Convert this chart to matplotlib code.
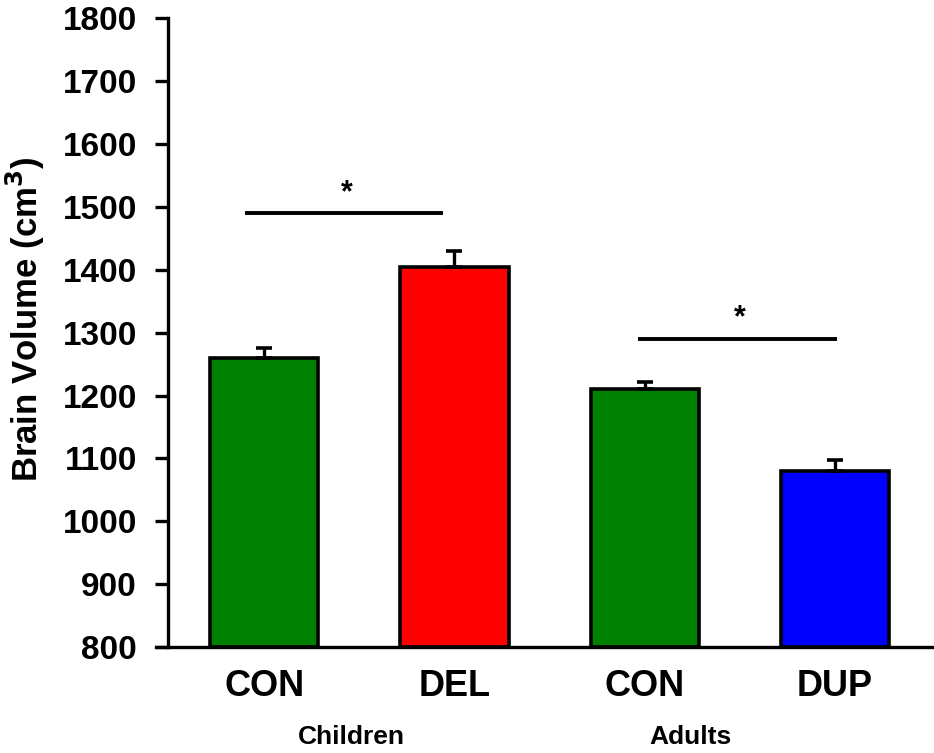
import numpy as np
import matplotlib
matplotlib.use("Agg")
import matplotlib.pyplot as plt
import matplotlib.transforms as mtransforms

# ── Data ───────────────────────────────────────────────────────
labels  = ["CON", "DEL", "CON", "DUP"]
volumes = [1260, 1405, 1210, 1080]
errors  = [16, 25, 11, 17]
colors  = ["#008000", "#FF0000", "#008000", "#0000FF"]

groups  = ["Children", "Adults"]
group_x = [0.46, 2.24]

# significance brackets: (x start, x end, y level)
sig_x0 = [-0.10, 1.965]
sig_x1 = [0.94, 3.01]
sig_y  = [1490, 1290]
star_x = [0.436, 2.50]
star_y = [1522, 1323]

yticks = np.arange(800, 1801, 100)

# ── Plot ───────────────────────────────────────────────────────
plt.rcParams["font.family"] = ["Liberation Sans", "DejaVu Sans"]

fig = plt.figure(figsize=(9.34, 7.53), dpi=100)
ax = fig.add_axes([0.1799, 0.1408, 0.8191, 0.8349])

x = np.arange(len(labels))
ax.bar(x, np.array(volumes) - 800, bottom=800, width=0.57, color=colors,
       edgecolor="black", linewidth=2.6, zorder=2)
ax.errorbar(x, volumes, yerr=[np.zeros(len(errors)), errors], fmt="none",
            ecolor="black", elinewidth=2.4, capsize=6, capthick=2.6, zorder=3)

for x0, x1, yy in zip(sig_x0, sig_x1, sig_y):
    ax.plot([x0, x1], [yy, yy], color="black", linewidth=2.8,
            solid_capstyle="butt")
for sx, sy in zip(star_x, star_y):
    ax.text(sx, sy, "*", ha="center", va="center", fontsize=22,
            fontweight="bold")

ax.set_xlim(-0.505, 3.515)
ax.set_ylim(800, 1800)
ax.set_yticks(yticks)
ax.set_xticks(x)
ax.set_xticklabels(labels, fontsize=26, fontweight="bold")
ax.tick_params(axis="x", length=0, pad=16)
ax.tick_params(axis="y", length=9.5, width=2.4, direction="out", pad=13,
               labelsize=24)
for t in ax.get_yticklabels():
    t.set_fontweight("bold")

for spine in ["top", "right"]:
    ax.spines[spine].set_visible(False)
ax.spines["left"].set_linewidth(2.4)
ax.spines["bottom"].set_linewidth(2.4)
ax.spines["bottom"].set_bounds(-0.57, 3.515)

trans = mtransforms.blended_transform_factory(ax.transData, fig.transFigure)
for gx, g in zip(group_x, groups):
    ax.text(gx, 1 - 737 / 753, g, transform=trans, ha="center", va="center",
            fontsize=19, fontweight="bold")

fig.text(25 / 934, 1 - 319 / 753, "Brain Volume (cm$^\\mathbf{3}$)",
         rotation=90, ha="center", va="center", fontsize=25, fontweight="bold")

fig.savefig("out.png", dpi=100)
